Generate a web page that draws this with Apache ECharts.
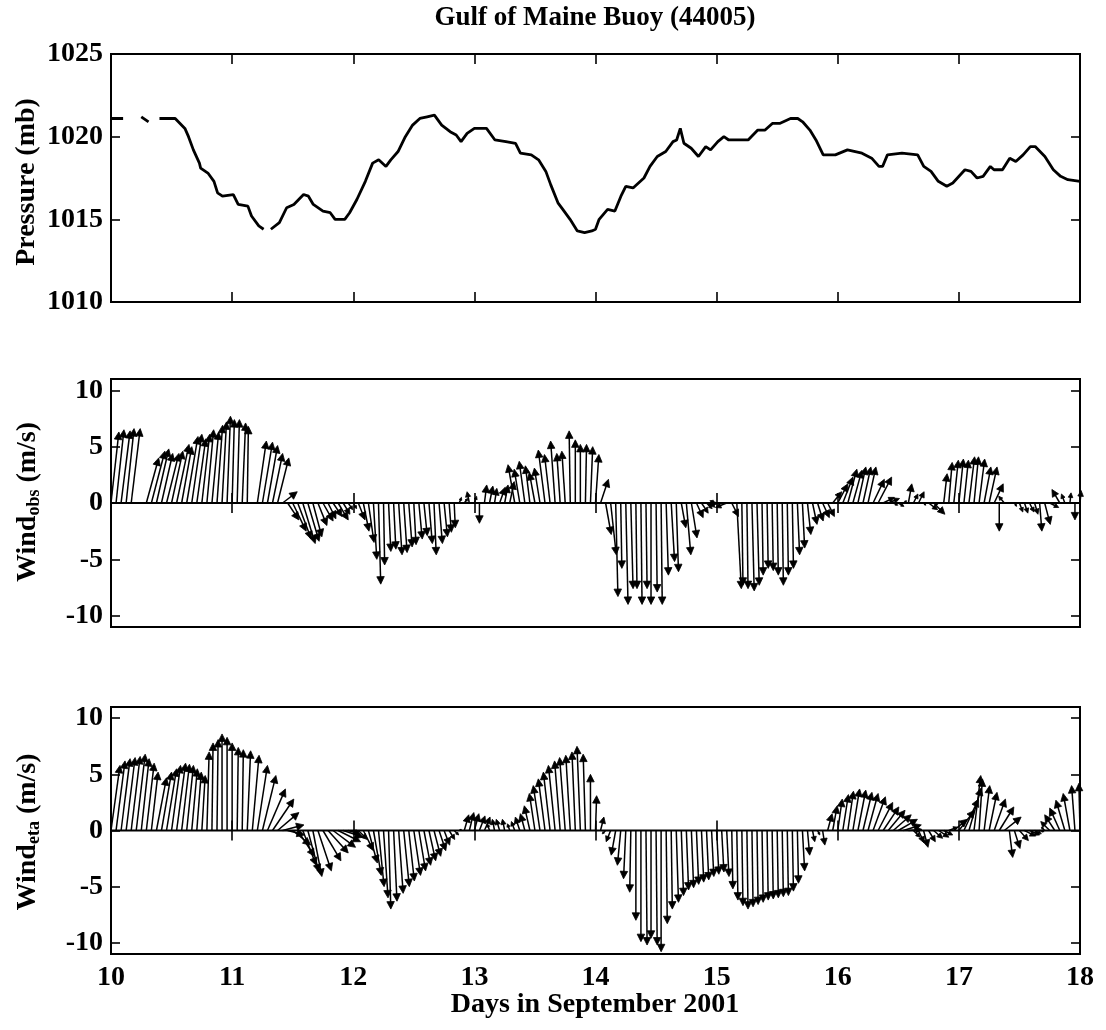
<!DOCTYPE html>
<html>
<head>
<meta charset="utf-8">
<script src="https://cdn.jsdelivr.net/npm/echarts@6/dist/echarts.min.js"></script>
<style>
  html, body { margin: 0; padding: 0; background: #fff; }
  #chart { width: 1106px; height: 1030px; }
</style>
</head>
<body>
<div id="chart"></div>
<script>
// ---- Data: Gulf of Maine buoy 44005, 10-18 September 2001 ----

const dayTicks = [10, 11, 12, 13, 14, 15, 16, 17, 18];
const pressureTicks = [1010, 1015, 1020, 1025];
const windTicks = [-10, -5, 0, 5, 10];

// Sea-level pressure (mb); null marks missing records
const pressureTime = [
  10.00, 10.10, 10.17, 10.25, 10.31, 10.36, 10.40, 10.53, 10.61, 10.64, 10.68, 10.73, 10.74, 10.80,
  10.85, 10.88, 10.92, 11.01, 11.05, 11.13, 11.16, 11.22, 11.26, 11.29, 11.32, 11.39, 11.45, 11.51,
  11.59, 11.63, 11.67, 11.75, 11.81, 11.85, 11.93, 11.97, 12.03, 12.10, 12.16, 12.21, 12.27, 12.31,
  12.37, 12.43, 12.49, 12.55, 12.61, 12.67, 12.73, 12.80, 12.85, 12.89, 12.94, 13.00, 13.10, 13.17,
  13.26, 13.34, 13.38, 13.47, 13.53, 13.59, 13.63, 13.69, 13.73, 13.79, 13.85, 13.91, 13.97, 14.00,
  14.03, 14.10, 14.16, 14.21, 14.25, 14.31, 14.40, 14.45, 14.51, 14.58, 14.64, 14.67, 14.70, 14.73,
  14.79, 14.85, 14.91, 14.95, 15.01, 15.06, 15.10, 15.26, 15.34, 15.40, 15.46, 15.52, 15.61, 15.67,
  15.71, 15.77, 15.82, 15.88, 15.98, 16.08, 16.20, 16.28, 16.34, 16.37, 16.41, 16.53, 16.66, 16.71,
  16.77, 16.83, 16.90, 16.95, 17.05, 17.10, 17.15, 17.20, 17.26, 17.29, 17.36, 17.42, 17.47, 17.53,
  17.59, 17.63, 17.71, 17.78, 17.84, 17.90, 18.00
];
const pressureMb = [
  1021.1, 1021.1, null, 1021.2, 1020.9, null, 1021.1, 1021.1, 1020.5, 1020.0, 1019.2, 1018.4, 1018.1, 1017.8,
  1017.3, 1016.6, 1016.4, 1016.5, 1015.9, 1015.8, 1015.2, 1014.6, 1014.4, null, 1014.4, 1014.8, 1015.7, 1015.9,
  1016.5, 1016.4, 1015.9, 1015.5, 1015.4, 1015.0, 1015.0, 1015.4, 1016.2, 1017.3, 1018.4, 1018.6, 1018.2, 1018.6,
  1019.1, 1020.0, 1020.7, 1021.1, 1021.2, 1021.3, 1020.7, 1020.3, 1020.1, 1019.7, 1020.2, 1020.5, 1020.5, 1019.8,
  1019.7, 1019.6, 1019.0, 1018.9, 1018.6, 1017.9, 1017.1, 1016.0, 1015.6, 1015.0, 1014.3, 1014.2, 1014.3, 1014.4,
  1015.0, 1015.6, 1015.5, 1016.4, 1017.0, 1016.9, 1017.5, 1018.2, 1018.8, 1019.1, 1019.7, 1019.8, 1020.5, 1019.6,
  1019.3, 1018.8, 1019.4, 1019.2, 1019.7, 1020.0, 1019.8, 1019.8, 1020.4, 1020.4, 1020.8, 1020.8, 1021.1, 1021.1,
  1020.9, 1020.4, 1019.8, 1018.9, 1018.9, 1019.2, 1019.0, 1018.7, 1018.2, 1018.2, 1018.9, 1019.0, 1018.9, 1018.2,
  1017.9, 1017.3, 1017.0, 1017.2, 1018.0, 1017.9, 1017.5, 1017.6, 1018.2, 1018.0, 1018.0, 1018.7, 1018.5, 1018.9,
  1019.4, 1019.4, 1018.8, 1018.0, 1017.6, 1017.4, 1017.3
];

// Hourly wind vectors (m/s), first record at day 10.0; one row per day
const windStartDay = 10;
const windStepDays = 1 / 24;

const obsU = [
  0.7, 0.7, 0.8, 0.7, 0.8, null, null, 1.1, 1.2, 1.1, 1.0, 1.1, 1.0, 1.1, 0.9, 1.0, 0.9, 0.8, 0.7, 0.6, 0.6, 0.5, 0.4, 0.3,
  0.2, 0.2, 0.3, 0.1, null, 0.8, 0.9, 0.9, 0.9, 1.0, 1.3, 1.0, 1.2, 1.2, 1.1, 1.0, 0.8, 0.8, 0.9, 0.7, 0.8, 0.9, 0.6, 0.4,
  0.3, 0.6, 0.5, 0.5, 0.3, 0.2, 0.1, 0.2, 0.2, 0.3, 0.3, 0.3, 0.2, 0.3, 0.3, 0.3, 0.2, 0.3, 0.3, 0.2, 0.1, 0.2, 0.3, -0.2,
  0.2, 0.0, 0.2, 0.3, 0.2, 0.5, 0.3, 0.4, -0.6, -0.5, -0.5, -0.4, -0.5, -0.5, -0.6, -0.5, -0.4, -0.3, -0.3, -0.1, 0.0, 0.0, 0.1, 0.2,
  0.3, 0.7, 0.5, 0.5, 0.2, 0.1, 0.2, 0.2, 0.1, 0.1, 0.1, 0.0, 0.1, 0.1, 0.2, 0.3, 0.2, 0.4, 0.4, 0.5, 0.6, 0.6, 0.5, -0.3,
  -0.6, -1.2, -1.0, 0.6, 0.4, 0.1, 0.1, 0.2, 0.2, 0.1, 0.1, 0.1, 0.1, 0.1, 0.1, 0.1, 0.2, 0.2, 0.3, 0.4, 0.5, 0.6, 0.6, 0.8,
  0.9, 0.9, 0.8, 0.8, 0.7, 0.7, 0.7, 1.0, 1.2, 1.0, 1.0, 0.4, 0.5, 0.3, 0.3, 0.4, 0.5, 0.2, 0.8, 1.0, -0.3, 0.3, 0.3, 0.4,
  0.4, 0.4, 0.5, 0.4, 0.5, 0.6, 0.7, 0.8, 0.0, -0.5, null, 0.2, 0.3, 0.3, 0.4, 0.3, 0.2, 0.5, 0.8, null, -0.7, -0.3, 0.1, 0.0,
  0.1
];
const obsV = [
  6.3, 6.5, 6.4, 6.6, 6.6, null, null, 4.0, 4.6, 4.8, 4.4, 4.4, 4.6, 5.2, 5.0, 5.9, 6.1, 5.7, 6.1, 6.5, 6.3, 6.9, 7.2, 7.7,
  7.4, 7.4, 7.1, 6.8, null, 5.5, 5.4, 5.1, 4.4, 4.0, 1.0, -1.5, -2.5, -3.2, -3.6, -3.4, -3.0, -2.0, -1.6, -1.4, -1.2, -1.5, -1.0, -0.6,
  -0.5, -1.5, -2.5, -3.5, -5.0, -7.2, -5.5, -4.3, -4.1, -4.6, -4.4, -3.9, -3.7, -3.2, -2.9, -3.6, -4.6, -3.6, -3.0, -2.6, -2.2, 0.5, 0.4, 1.0,
  0.6, -1.8, 1.6, 1.5, 1.3, 1.4, 1.6, 1.9, 3.4, 3.0, 3.7, 3.3, 2.7, 3.1, 4.7, 4.3, 5.5, 4.4, 4.6, 6.4, 5.6, 5.2, 5.2, 5.0,
  4.3, 2.1, -2.8, -4.6, -8.3, -5.8, -9.0, -7.6, -7.6, -9.0, -7.6, -9.0, -7.9, -9.0, -6.4, -5.2, -6.1, -2.2, -4.6, -3.1, -1.3, -0.9, -0.5, -0.1,
  0.2, -0.2, -0.4, -1.2, -7.6, -7.3, -7.6, -7.8, -7.3, -6.4, -5.8, -6.0, -6.4, -7.3, -6.4, -5.8, -4.6, -4.0, -2.8, -1.9, -1.6, -1.3, -1.2, 1.0,
  1.7, 2.3, 3.0, 2.9, 3.2, 3.2, 3.2, 2.1, 2.3, 0.5, 0.4, -0.2, -0.3, 0.2, 1.7, 0.8, 1.0, -0.2, -0.6, -1.0, -0.2, 2.6, 3.6, 3.8,
  3.9, 3.8, 4.1, 4.1, 3.9, 3.2, 3.2, 1.7, -2.5, 0.6, null, -0.3, -0.8, -0.9, -0.8, -1.0, -2.5, -1.9, -0.4, null, 1.2, 0.8, 0.9, -1.5,
  1.1
];

const etaU = [
  0.8, 0.8, 0.8, 0.8, 0.8, 0.8, 0.7, 0.7, 0.6, 0.9, 0.9, 0.9, 0.8, 0.8, 0.7, 0.6, 0.5, 0.4, 0.3, 0.2, 0.1, 0.1, 0.0, 0.0,
  0.0, 0.1, 0.1, 0.3, 0.6, 0.9, 1.2, 1.6, 1.9, 1.9, 1.9, 1.5, 1.6, 1.5, 1.2, 1.0, 0.8, 1.2, 1.6, 1.8, 2.0, 2.0, 1.8, 1.0,
  0.5, 0.8, 0.9, 0.8, 0.7, 0.5, 0.4, 0.2, 0.3, 0.4, 0.5, 0.5, 0.6, 0.6, 0.6, 0.6, 0.6, 0.6, 0.5, 0.5, 0.4, 0.2, 0.4, 0.4,
  0.4, 0.5, 0.5, -0.2, -0.2, -0.3, -0.2, -0.2, -0.3, -0.4, -0.4, -0.5, -0.5, -0.6, -0.6, -0.6, -0.6, -0.5, -0.5, -0.4, -0.3, -0.3, -0.2, 0.0,
  0.1, 0.3, -0.3, -0.4, -0.4, -0.3, -0.2, -0.1, 0.0, 0.0, 0.1, 0.0, 0.1, 0.0, 0.1, 0.1, 0.2, 0.2, 0.2, 0.2, 0.2, 0.2, 0.2, 0.2,
  0.2, 0.2, 0.2, 0.1, 0.1, 0.1, 0.1, 0.1, 0.1, 0.1, 0.1, 0.1, 0.1, 0.1, 0.1, 0.1, 0.1, 0.2, 0.2, 0.2, 0.2, 0.2, 0.4, 0.4,
  0.4, 0.5, 0.5, 0.6, 0.7, 0.8, 0.9, 1.1, 1.3, 1.4, 1.5, 1.6, 1.7, 1.6, 1.2, 0.6, 0.5, 0.4, 0.6, 0.8, 0.9, 0.8, 0.8, 1.2,
  1.4, 1.3, 1.1, 0.6, 0.3, 0.5, 0.7, 1.0, 1.3, 1.5, 0.3, 0.5, 0.8, 1.0, 0.9, 0.6, 0.4, -0.3, -0.8, -0.9, -0.9, -0.8, -0.6, -0.3,
  -0.1
];
const etaV = [
  5.8, 6.2, 6.4, 6.5, 6.6, 6.8, 6.4, 6.0, 5.2, 4.7, 5.2, 5.5, 5.8, 6.0, 5.9, 5.8, 5.5, 5.2, 4.9, 7.0, 7.8, 8.1, 8.6, 8.3,
  7.8, 7.4, 7.2, 7.1, 6.7, 5.8, 4.9, 3.7, 2.8, 1.6, 0.5, -0.4, -1.3, -2.3, -3.1, -3.7, -4.1, -3.6, -2.7, -2.0, -1.5, -1.0, -0.6, -0.3,
  -0.1, -0.8, -1.8, -2.9, -4.0, -5.0, -6.0, -7.0, -6.3, -5.6, -5.0, -4.5, -4.0, -3.6, -3.1, -2.7, -2.3, -1.8, -1.3, -0.8, -0.4, 0.1, 1.4, 1.6,
  1.5, 1.3, 1.2, 0.6, 1.0, 1.0, 1.0, 0.6, 0.8, 1.2, 1.5, 2.2, 3.3, 4.0, 4.6, 5.2, 5.8, 6.2, 6.5, 6.7, 7.0, 7.5, 6.8, 5.0,
  3.1, 1.2, -0.3, -1.0, -2.2, -3.1, -4.3, -5.5, -8.0, -9.9, -10.2, -9.6, -10.2, -10.8, -8.3, -7.0, -6.4, -5.8, -5.3, -5.1, -4.8, -4.6, -4.4, -4.1,
  -3.9, -3.7, -4.1, -5.2, -6.2, -6.7, -7.0, -6.8, -6.6, -6.4, -6.2, -6.1, -6.0, -5.9, -5.8, -5.4, -4.7, -3.6, -2.2, -1.0, -0.4, -1.3, 1.5, 2.2,
  2.8, 3.2, 3.5, 3.7, 3.6, 3.4, 3.3, 3.0, 2.5, 2.1, 1.8, 1.4, 1.0, 0.5, 0.1, -0.6, -1.1, -1.5, -1.0, -0.7, -0.6, -0.4, 0.3, 1.0,
  1.8, 2.8, 3.8, 4.9, 4.6, 4.0, 3.4, 2.8, 2.1, 1.2, -2.4, -1.6, -0.9, -0.5, -0.4, -0.3, -0.1, 0.3, 0.8, 1.4, 2.0, 2.7, 3.3, 4.0,
  4.2
];

// ---- Helpers ----
const SERIF = "'Liberation Serif', 'Times New Roman', Times, serif";

function stickRows(uArr, vArr) {
  const rows = [];
  for (let i = 0; i < uArr.length; i++) {
    if (uArr[i] === null || vArr[i] === null) continue;
    rows.push([windStartDay + i * windStepDays, uArr[i], vArr[i]]);
  }
  return rows;
}

// Stick (vector) drawn from (t, 0); the east component is scaled with the
// same pixels-per-m/s as the vertical axis so that directions stay true.
function renderStick(params, api) {
  const t = api.value(0), u = api.value(1), v = api.value(2);
  const base = api.coord([t, 0]);
  const end = api.coord([t, v]);
  const pxPerMs = api.size([0, 1])[1];
  const tip = [base[0] + u * pxPerMs, end[1]];
  const dx = tip[0] - base[0], dy = tip[1] - base[1];
  const len = Math.hypot(dx, dy);
  if (len < 0.5) return null;
  const ex = dx / len, ey = dy / len;
  const head = Math.min(7.5, len * 0.45);
  const half = head * 0.5;
  const hx = tip[0] - ex * head, hy = tip[1] - ey * head;
  return {
    type: 'group',
    children: [
      {
        type: 'line',
        shape: { x1: base[0], y1: base[1], x2: hx + ex * head * 0.4, y2: hy + ey * head * 0.4 },
        style: { stroke: '#000', lineWidth: 1.5 }
      },
      {
        type: 'polygon',
        shape: { points: [tip, [hx - ey * half, hy + ex * half], [hx + ey * half, hy - ex * half]] },
        style: { fill: '#000', stroke: '#000', lineWidth: 0.8 }
      }
    ]
  };
}

const panels = [
  { top: 54, height: 248 },
  { top: 379, height: 248 },
  { top: 707, height: 247 }
];

const tickStyle = { show: true, inside: true, length: 9, lineStyle: { color: '#000', width: 1.6 } };
const labelFont = { color: '#000', fontFamily: SERIF, fontWeight: 'bold', fontSize: 28 };
const plainNumber = v => String(v);

const grid = panels.map(p => ({
  left: 111, width: 969, top: p.top, height: p.height,
  show: true, borderColor: '#000', borderWidth: 2, backgroundColor: 'transparent'
}));

const xAxis = [];
const yAxis = [];
panels.forEach((p, i) => {
  ['bottom', 'top'].forEach(pos => {
    xAxis.push({
      type: 'value', gridIndex: i, position: pos, min: 10, max: 18, interval: 1,
      axisLine: { show: false }, splitLine: { show: false },
      axisTick: Object.assign({}, tickStyle, { length: 10 }),
      axisLabel: Object.assign({
        show: pos === 'bottom' && i === 2, margin: 10,
        customValues: dayTicks, formatter: plainNumber
      }, labelFont)
    });
  });
  ['left', 'right'].forEach(pos => {
    const isPressure = i === 0;
    const ticks = isPressure ? pressureTicks : windTicks;
    yAxis.push({
      type: 'value', gridIndex: i, position: pos,
      min: isPressure ? 1010 : -11, max: isPressure ? 1025 : 11,
      axisLine: { show: false }, splitLine: { show: false },
      axisTick: Object.assign({}, tickStyle, { customValues: ticks }),
      axisLabel: Object.assign({
        show: pos === 'left', margin: 8, customValues: ticks, formatter: plainNumber
      }, labelFont)
    });
  });
});

const titleFont = 'bold 27px ' + SERIF;
const nameFont = 'bold 28px ' + SERIF;

function windName(sub, centerY) {
  return {
    type: 'text', x: 28, y: centerY, rotation: Math.PI / 2,
    style: {
      text: '{a|Wind}{b|' + sub + '}{a| (m/s)}',
      align: 'center', verticalAlign: 'middle', fill: '#000',
      rich: {
        a: { fontFamily: SERIF, fontWeight: 'bold', fontSize: 28, lineHeight: 30, fill: '#000' },
        b: { fontFamily: SERIF, fontWeight: 'bold', fontSize: 18, lineHeight: 12, verticalAlign: 'bottom', fill: '#000' }
      }
    }
  };
}

const option = {
  animation: false,
  backgroundColor: '#fff',
  grid, xAxis, yAxis,
  graphic: [
    { type: 'text', x: 595, y: 18, style: { text: 'Gulf of Maine Buoy (44005)', font: titleFont, fill: '#000', align: 'center', verticalAlign: 'middle' } },
    { type: 'text', x: 595, y: 1005, style: { text: 'Days in September 2001', font: nameFont, fill: '#000', align: 'center', verticalAlign: 'middle' } },
    { type: 'text', x: 27, y: 182, rotation: Math.PI / 2, style: { text: 'Pressure (mb)', font: nameFont, fill: '#000', align: 'center', verticalAlign: 'middle' } },
    windName('obs', 502),
    windName('eta', 832)
  ],
  series: [
    {
      type: 'line', xAxisIndex: 0, yAxisIndex: 0, showSymbol: false, connectNulls: false,
      data: pressureTime.map((t, i) => [t, pressureMb[i]]),
      lineStyle: { color: '#000', width: 2.8 }
    },
    {
      type: 'line', xAxisIndex: 2, yAxisIndex: 2, showSymbol: false, silent: true,
      data: [[10, 0], [18, 0]], lineStyle: { color: '#000', width: 2 }
    },
    {
      type: 'custom', xAxisIndex: 2, yAxisIndex: 2, renderItem: renderStick,
      dimensions: ['day', 'u', 'v'], encode: { x: 0, y: 2 },
      data: stickRows(obsU, obsV)
    },
    {
      type: 'line', xAxisIndex: 4, yAxisIndex: 4, showSymbol: false, silent: true,
      data: [[10, 0], [18, 0]], lineStyle: { color: '#000', width: 2 }
    },
    {
      type: 'custom', xAxisIndex: 4, yAxisIndex: 4, renderItem: renderStick,
      dimensions: ['day', 'u', 'v'], encode: { x: 0, y: 2 },
      data: stickRows(etaU, etaV)
    }
  ]
};

const chart = echarts.init(document.getElementById('chart'));
chart.setOption(option);
</script>
</body>
</html>
